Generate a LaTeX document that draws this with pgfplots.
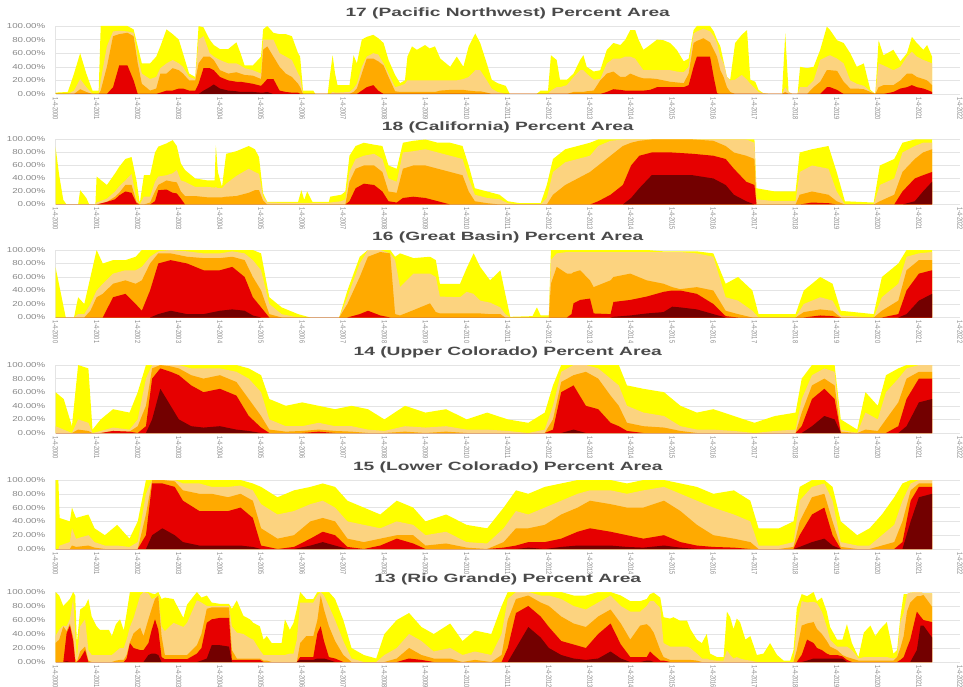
\documentclass[border=0pt]{standalone}
\usepackage{pgfplots}
\pgfplotsset{compat=1.18}
\usepackage{pgfplotstable}
\usepackage{fontspec}
\setmainfont{Liberation Sans}
\usepackage{graphicx}
\definecolor{dzero}{HTML}{FFFF00}
\definecolor{done}{HTML}{FCD37F}
\definecolor{dtwo}{HTML}{FFAA00}
\definecolor{dthree}{HTML}{E60000}
\definecolor{dfour}{HTML}{730000}
\definecolor{gridc}{HTML}{E4E4E4}
\definecolor{labc}{HTML}{888888}
\definecolor{titc}{HTML}{4A4A4A}

% 17 Pacific Northwest
\pgfplotstableread{
x d0 d1 d2 d3 d4
2000.00 2 0 0 0 0
2000.30 3 0 0 0 0
2000.45 30 5 0 0 0
2000.60 60 22 7 0 0
2000.75 30 10 3 0 0
2000.90 5 0 0 0 0
2001.05 5 0 0 0 0
2001.10 100 20 5 0 0
2001.25 100 70 40 0 0
2001.40 100 92 85 10 0
2001.55 100 93 88 42 0
2001.75 100 92 90 42 0
2001.90 95 90 85 20 0
2002.00 70 55 45 0 0
2002.10 45 30 15 0 0
2002.30 45 22 5 0 0
2002.45 55 25 8 0 0
2002.55 70 38 30 2 0
2002.70 95 45 30 5 0
2002.85 88 50 38 5 0
2003.00 80 45 35 8 0
2003.10 60 40 30 8 0
2003.25 30 25 20 5 0
2003.40 25 22 20 5 0
2003.48 100 80 45 15 0
2003.60 98 85 55 38 5
2003.75 80 60 55 38 10
2003.85 72 55 50 35 14
2004.00 66 50 35 25 8
2004.20 66 45 30 20 5
2004.40 76 45 32 18 4
2004.50 60 42 30 18 3
2004.60 42 38 28 17 3
2004.80 42 35 27 15 3
2005.00 55 30 22 12 2
2005.05 95 80 65 15 2
2005.15 100 80 70 22 3
2005.30 90 80 55 22 0
2005.45 88 60 40 5 0
2005.60 88 55 30 3 0
2005.75 85 50 25 2 0
2005.90 60 30 15 2 0
2005.95 55 25 10 0 0
2006.02 5 0 0 0 0
2006.27 5 0 0 0 0
2006.32 0 0 0 0 0
2006.62 0 0 0 0 0
2006.68 30 0 0 0 0
2006.74 57 3 0 0 0
2006.80 30 2 0 0 0
2006.86 13 2 0 0 0
2007.15 13 3 0 0 0
2007.25 57 8 3 0 0
2007.33 45 15 8 0 0
2007.45 80 40 30 5 0
2007.57 84 55 52 10 0
2007.73 87 60 52 13 0
2007.85 82 58 48 5 0
2007.98 75 45 42 0 0
2008.10 50 30 25 0 0
2008.26 28 10 4 0 0
2008.38 16 12 3 0 0
2008.50 20 15 3 0 0
2008.56 55 20 3 0 0
2008.67 70 20 3 0 0
2008.79 65 20 3 0 0
2008.99 72 20 3 0 0
2009.10 67 20 3 0 0
2009.23 70 20 3 0 0
2009.36 52 20 5 0 0
2009.60 40 20 6 0 0
2009.76 55 20 6 0 0
2009.92 40 22 6 0 0
2010.05 70 25 5 0 0
2010.21 89 35 4 0 0
2010.33 75 35 4 0 0
2010.49 45 20 2 0 0
2010.61 21 8 0 0 0
2010.75 16 3 0 0 0
2010.95 12 0 0 0 0
2011.05 0 0 0 0 0
2011.70 0 0 0 0 0
2011.80 5 0 0 0 0
2011.98 5 0 0 0 0
2012.05 57 5 0 0 0
2012.19 50 10 0 0 0
2012.27 21 10 0 0 0
2012.44 21 13 0 0 0
2012.60 30 25 3 0 0
2012.76 50 35 3 0 0
2012.84 57 35 3 0 0
2012.92 40 30 4 0 0
2013.09 33 21 5 0 0
2013.25 35 22 20 0 0
2013.41 65 45 30 3 0
2013.57 75 52 33 7 0
2013.74 72 52 25 6 0
2013.86 80 55 25 5 0
2013.98 94 55 30 5 0
2014.10 94 52 27 5 0
2014.18 80 45 25 5 0
2014.30 65 35 23 5 0
2014.46 72 35 23 6 0
2014.63 80 35 22 10 0
2014.79 79 35 20 10 0
2014.95 75 35 18 10 0
2015.11 65 33 17 10 0
2015.28 48 32 16 10 0
2015.40 52 40 30 13 0
2015.52 94 89 75 40 0
2015.60 100 92 78 55 0
2015.76 100 96 82 55 0
2015.92 100 92 76 55 0
2016.01 92 85 65 25 0
2016.09 80 75 55 1 0
2016.17 70 55 35 0 0
2016.25 48 45 25 0 0
2016.33 25 25 10 0 0
2016.41 21 20 3 0 0
2016.53 75 21 0 0 0
2016.69 87 28 0 0 0
2016.82 94 21 0 0 0
2016.90 21 15 0 0 0
2017.02 18 8 0 0 0
2017.10 6 3 0 0 0
2017.22 1 1 0 0 0
2017.38 0 0 0 0 0
2017.67 0 0 0 0 0
2017.75 89 10 3 0 0
2017.83 3 3 0 0 0
2017.92 0 0 0 0 0
2018.05 0 0 0 0 0
2018.11 40 10 0 0 0
2018.28 38 10 0 0 0
2018.44 40 20 10 0 0
2018.60 65 50 18 0 0
2018.76 99 55 35 10 0
2018.84 94 57 35 10 0
2019.01 79 52 34 6 0
2019.17 75 45 18 0 0
2019.33 60 20 8 0 0
2019.49 40 15 8 0 0
2019.66 45 12 7 0 0
2019.82 6 4 3 0 0
2019.94 0 0 0 0 0
2020.02 79 45 10 0 0
2020.14 57 42 13 0 0
2020.38 65 35 13 3 0
2020.55 48 40 20 8 0
2020.71 60 55 30 10 0
2020.83 84 62 30 13 0
2020.95 75 55 25 10 0
2021.11 65 50 22 8 0
2021.20 72 48 20 6 0
2021.32 55 45 13 3 0
}\tabA

% 18 California
\pgfplotstableread{
x d0 d1 d2 d3 d4
2000.00 89 0 0 0 0
2000.09 45 0 0 0 0
2000.19 7 0 0 0 0
2000.27 0 0 0 0 0
2000.55 0 0 0 0 0
2000.60 22 0 0 0 0
2000.75 10 0 0 0 0
2000.82 0 0 0 0 0
2000.97 0 0 0 0 0
2001.00 43 3 0 0 0
2001.25 30 9 4 4 0
2001.45 48 20 12 8 0
2001.55 58 28 18 14 0
2001.70 70 37 30 20 0
2001.85 73 47 30 18 0
2001.97 37 8 4 2 0
2002.05 2 0 0 0 0
2002.15 45 12 0 0 0
2002.30 45 12 3 0 0
2002.42 80 35 20 5 0
2002.50 89 43 30 22 0
2002.70 94 45 37 23 0
2002.85 99 48 35 18 0
2002.95 90 53 34 17 0
2003.05 63 37 20 9 0
2003.15 53 35 13 0 0
2003.40 40 27 13 0 0
2003.70 37 27 11 0 0
2003.87 37 26 11 0 0
2003.90 91 27 11 0 0
2003.95 50 25 11 0 0
2004.05 27 25 11 0 0
2004.15 78 32 12 0 0
2004.40 82 44 13 0 0
2004.70 90 55 18 0 0
2004.85 85 50 22 0 0
2004.95 73 47 22 0 0
2005.05 17 12 6 0 0
2005.15 4 3 0 0 0
2005.90 4 2 0 0 0
2005.98 22 2 0 0 0
2006.05 7 2 0 0 0
2006.12 20 2 0 0 0
2006.25 4 2 0 0 0
2006.65 4 2 0 0 0
2006.68 12 3 0 0 0
2006.95 15 5 0 0 0
2007.05 20 8 0 0 0
2007.15 75 50 35 5 0
2007.30 90 70 55 25 0
2007.50 95 75 60 32 0
2007.75 92 78 60 30 0
2007.95 90 70 50 20 0
2008.10 60 40 20 5 0
2008.30 55 35 18 3 0
2008.45 95 80 55 10 0
2008.70 98 82 60 12 0
2009.00 100 85 60 10 0
2009.30 95 80 55 5 0
2009.60 95 75 50 0 0
2009.90 90 70 45 0 0
2010.05 60 40 20 0 0
2010.20 25 15 5 0 0
2010.50 20 10 2 0 0
2010.80 15 8 0 0 0
2011.00 5 2 0 0 0
2011.30 2 0 0 0 0
2011.80 2 0 0 0 0
2011.95 30 10 0 0 0
2012.10 70 50 15 0 0
2012.40 85 65 30 0 0
2012.70 90 70 40 0 0
2013.00 95 75 50 0 0
2013.20 100 90 60 5 0
2013.50 100 98 75 15 0
2013.80 100 100 90 30 0
2014.00 100 100 95 60 10
2014.20 100 100 98 75 25
2014.50 100 100 100 80 45
2015.00 100 100 100 80 45
2015.50 100 100 100 78 45
2016.00 100 100 98 75 40
2016.30 100 100 90 70 30
2016.50 100 100 80 55 15
2016.80 100 100 75 35 5
2017.00 100 95 70 30 0
2017.05 25 8 0 0 0
2017.50 20 5 0 0 0
2018.00 20 5 0 0 0
2018.10 80 50 15 0 0
2018.40 85 60 20 3 0
2018.80 90 55 15 2 0
2019.00 50 20 5 0 0
2019.20 5 0 0 0 0
2019.90 3 0 0 0 0
2020.05 60 30 5 0 0
2020.40 70 40 15 0 0
2020.60 95 80 50 20 0
2020.90 100 90 70 40 5
2021.10 100 95 80 45 20
2021.32 100 95 85 50 35
}\tabB

% 16 Great Basin
\pgfplotstableread{
x d0 d1 d2 d3 d4
2000.00 75 0 0 0 0
2000.15 30 0 0 0 0
2000.25 0 0 0 0 0
2000.45 0 0 0 0 0
2000.55 30 5 0 0 0
2000.70 20 5 0 0 0
2000.85 60 20 10 0 0
2001.00 100 40 30 0 0
2001.15 80 50 35 0 0
2001.40 85 65 50 30 0
2001.70 85 70 55 35 0
2001.95 90 70 50 20 0
2002.10 100 75 55 10 0
2002.30 100 90 80 40 0
2002.50 100 98 95 80 5
2002.80 100 100 95 85 10
2003.20 100 98 90 80 5
2003.60 100 95 88 70 5
2004.00 100 95 88 70 10
2004.30 100 98 90 75 12
2004.60 100 95 85 60 10
2004.80 100 85 60 30 3
2005.00 95 70 40 15 0
2005.20 30 20 5 0 0
2005.50 15 5 0 0 0
2005.90 5 0 0 0 0
2006.20 0 0 0 0 0
2006.90 0 0 0 0 0
2007.10 40 30 20 0 0
2007.40 90 80 60 5 0
2007.60 100 100 90 10 0
2007.90 100 100 97 3 0
2008.14 100 95 95 0 0
2008.26 90 85 5 0 0
2008.38 95 45 3 0 0
2008.71 88 65 11 0 0
2009.11 90 65 21 0 0
2009.25 85 60 8 0 0
2009.35 50 31 6 0 0
2009.84 50 30 6 0 0
2010.00 73 38 6 0 0
2010.17 95 35 6 0 0
2010.33 75 25 6 0 0
2010.57 55 22 5 0 0
2010.82 70 15 5 0 0
2010.94 35 5 0 0 0
2011.06 1 0 0 0 0
2011.60 2 0 0 0 0
2011.71 15 0 0 0 0
2011.80 3 0 0 0 0
2012.00 3 0 0 0 0
2012.05 100 85 50 0 0
2012.19 100 95 75 0 0
2012.44 100 97 65 0 0
2012.55 100 97 65 5 0
2012.60 100 97 67 21 0
2012.76 100 97 70 26 0
2013.00 100 97 55 28 0
2013.09 100 97 45 6 0
2013.50 100 97 55 5 0
2013.57 100 97 60 23 1
2013.98 100 97 65 26 3
2014.38 100 97 55 31 6
2014.79 98 97 50 38 8
2015.00 98 97 45 40 16
2015.19 98 97 42 40 15
2015.60 98 95 45 35 12
2016.00 95 90 40 20 5
2016.30 50 30 10 2 0
2016.60 60 25 5 0 0
2016.95 40 10 0 0 0
2017.10 5 0 0 0 0
2018.00 5 0 0 0 0
2018.20 40 20 8 0 0
2018.60 60 30 12 3 0
2018.90 50 25 10 2 0
2019.10 10 3 0 0 0
2019.90 5 0 0 0 0
2020.10 60 30 10 0 0
2020.50 80 50 25 5 0
2020.70 100 90 70 40 5
2021.00 100 95 85 65 25
2021.32 100 97 85 70 35
}\tabC

% 14 Upper Colorado
\pgfplotstableread{
x d0 d1 d2 d3 d4
2000.00 60 10 0 0 0
2000.20 50 5 0 0 0
2000.40 10 0 0 0 0
2000.55 100 20 5 0 0
2000.80 95 15 3 0 0
2000.90 5 0 0 0 0
2001.10 20 3 0 0 0
2001.40 35 8 3 3 0
2001.80 30 5 2 2 0
2002.00 60 20 10 0 0
2002.20 100 80 40 10 0
2002.35 100 100 95 80 20
2002.55 100 100 100 95 65
2002.80 100 100 98 90 40
2003.00 100 100 95 85 20
2003.30 100 95 85 70 10
2003.60 100 95 80 60 8
2004.00 100 95 85 65 10
2004.40 100 90 75 55 5
2004.70 95 80 50 25 3
2005.00 85 60 25 8 0
2005.20 50 20 5 0 0
2005.60 40 10 2 0 0
2006.00 45 10 3 0 0
2006.40 40 15 5 2 0
2006.80 35 10 3 0 0
2007.20 40 10 2 0 0
2007.60 35 5 0 0 0
2008.00 20 3 0 0 0
2008.50 40 10 2 0 0
2009.00 30 8 0 0 0
2009.50 35 10 2 0 0
2010.00 20 5 0 0 0
2010.50 30 5 0 0 0
2011.00 20 3 0 0 0
2011.50 15 0 0 0 0
2011.90 30 5 0 0 0
2012.10 70 40 20 5 0
2012.30 100 90 75 60 0
2012.60 100 100 85 70 5
2012.90 100 100 90 40 0
2013.20 100 95 80 35 0
2013.50 100 80 55 15 0
2013.70 100 70 40 10 0
2013.90 70 40 15 3 0
2014.30 65 30 10 0 0
2014.80 60 25 8 0 0
2015.20 40 10 3 0 0
2015.60 30 5 0 0 0
2016.00 35 5 0 0 0
2016.50 25 3 0 0 0
2017.00 15 0 0 0 0
2017.50 25 3 0 0 0
2018.00 30 5 0 0 0
2018.15 80 50 30 10 0
2018.40 100 85 70 50 10
2018.70 100 95 80 65 25
2018.95 100 90 70 50 20
2019.10 20 5 2 0 0
2019.50 5 0 0 0 0
2019.70 60 30 5 0 0
2020.00 40 20 3 0 0
2020.20 85 60 20 0 0
2020.50 95 80 45 10 0
2020.70 100 95 80 50 10
2021.00 100 100 90 80 45
2021.32 100 100 90 80 50
}\tabD

% 15 Lower Colorado
\pgfplotstableread{
x d0 d1 d2 d3 d4
2000.00 100 0 0 0 0
2000.07 100 0 0 0 0
2000.10 45 5 0 0 0
2000.35 40 10 0 0 0
2000.40 60 30 5 0 0
2000.50 45 15 3 0 0
2000.80 50 20 5 0 0
2000.95 30 10 2 0 0
2001.20 20 5 0 0 0
2001.50 35 5 0 0 0
2001.80 15 3 0 0 0
2002.00 40 10 0 0 0
2002.20 100 80 50 20 0
2002.35 100 100 100 95 20
2002.60 100 100 100 95 30
2002.90 100 100 98 90 20
2003.10 100 95 85 70 10
2003.50 100 95 80 55 5
2003.80 100 90 80 55 5
2004.20 100 90 75 55 5
2004.50 100 92 80 60 5
2004.80 95 85 70 45 3
2005.00 90 65 30 5 0
2005.40 75 50 15 0 0
2005.80 85 55 20 3 0
2006.20 90 65 40 15 5
2006.50 95 70 45 25 10
2006.80 90 60 40 20 5
2007.10 70 40 15 3 0
2007.50 60 35 10 0 0
2007.90 50 30 15 5 0
2008.30 70 40 20 15 0
2008.70 60 35 20 8 0
2009.00 40 20 5 0 0
2009.50 50 25 8 0 0
2010.00 35 10 2 0 0
2010.50 30 8 0 0 0
2010.90 60 30 10 2 0
2011.20 85 55 30 5 0
2011.50 80 50 30 10 2
2011.90 90 60 35 10 0
2012.30 95 70 50 15 3
2012.70 100 80 60 25 5
2013.00 100 85 70 30 5
2013.50 100 85 65 25 5
2013.90 95 80 60 20 3
2014.30 100 85 60 15 2
2014.80 100 90 70 20 5
2015.20 95 80 55 10 2
2015.60 90 70 35 5 0
2016.00 80 60 20 3 0
2016.50 85 50 15 2 0
2016.90 70 40 10 0 0
2017.10 30 5 0 0 0
2017.60 30 5 0 0 0
2017.95 40 10 3 0 0
2018.10 90 70 40 20 3
2018.40 100 90 75 50 10
2018.70 100 95 80 60 15
2018.90 90 70 40 20 5
2019.10 40 10 3 0 0
2019.50 20 5 0 0 0
2019.80 30 5 0 0 0
2020.10 50 20 5 0 0
2020.40 75 35 10 0 0
2020.60 95 70 40 10 0
2020.80 100 95 85 70 40
2021.00 100 100 95 90 75
2021.32 100 100 95 90 80
}\tabE

% 13 Rio Grande
\pgfplotstableread{
x d0 d1 d2 d3 d4
2000.00 100 37 27 0 0
2000.09 95 46 32 0 0
2000.19 80 52 51 0 0
2000.27 85 51 44 41 1
2000.35 90 61 55 52 0
2000.43 100 90 35 30 0
2000.48 95 40 5 0 0
2000.52 27 5 0 0 0
2000.60 75 51 15 5 0
2000.72 80 61 22 17 0
2000.80 90 17 2 0 0
2000.88 65 10 0 0 0
2001.00 51 10 0 0 0
2001.08 46 10 0 0 0
2001.30 46 10 0 0 0
2001.37 37 10 0 0 0
2001.47 54 15 2 0 0
2001.57 61 20 3 0 0
2001.66 45 20 3 0 0
2001.73 70 32 10 5 0
2001.81 100 50 28 27 0
2001.90 100 63 41 20 0
2002.06 100 95 49 17 0
2002.14 100 100 37 17 0
2002.26 100 98 61 27 10
2002.34 98 90 76 46 12
2002.42 97 92 90 61 12
2002.50 100 95 95 46 10
2002.58 90 51 37 7 0
2002.66 92 44 10 4 0
2002.87 90 56 10 4 0
2003.11 63 50 10 4 0
2003.20 82 56 10 4 0
2003.44 100 88 24 12 0
2003.55 92 85 40 20 2
2003.68 95 80 76 56 5
2003.80 85 80 78 61 24
2004.00 83 80 78 63 24
2004.22 83 80 78 63 22
2004.29 76 51 17 3 0
2004.41 88 42 5 3 0
2004.57 66 40 5 3 0
2004.73 61 34 5 3 0
2004.81 56 32 5 3 0
2004.97 51 17 5 3 0
2005.06 32 10 2 0 0
2005.14 37 10 2 0 0
2005.26 27 10 0 0 0
2005.50 27 10 0 0 0
2005.58 61 10 0 0 0
2005.70 46 12 0 0 0
2005.79 56 12 0 0 0
2005.87 76 32 0 0 0
2005.95 100 85 27 7 3
2006.10 90 85 37 7 3
2006.27 90 85 37 7 3
2006.37 100 95 60 41 5
2006.45 100 100 95 51 5
2006.53 100 95 75 30 5
2006.65 100 80 51 7 3
2006.80 90 60 30 5 0
2007.00 60 30 10 0 0
2007.20 20 5 0 0 0
2007.50 10 0 0 0 0
2007.80 5 0 0 0 0
2008.00 40 10 0 0 0
2008.30 60 20 5 0 0
2008.60 70 40 20 5 0
2008.90 50 30 10 3 0
2009.20 40 15 5 0 0
2009.60 55 20 5 0 0
2009.90 30 10 0 0 0
2010.20 45 15 3 0 0
2010.60 40 10 0 0 0
2010.85 80 40 10 0 0
2011.00 100 90 60 20 0
2011.20 100 100 90 70 20
2011.50 100 100 95 80 50
2011.80 100 95 85 65 35
2012.00 100 95 80 50 20
2012.30 100 90 65 30 10
2012.60 95 80 55 25 5
2012.90 95 75 50 20 3
2013.20 100 85 65 40 5
2013.50 100 95 75 55 15
2013.75 95 80 55 25 5
2013.98 87 72 32 7 0
2014.22 87 72 52 7 0
2014.38 90 80 54 7 2
2014.46 97 87 50 15 2
2014.55 99 87 42 10 0
2014.71 92 77 17 2 0
2014.79 64 27 7 2 0
2014.95 62 22 3 0 0
2015.03 64 22 3 0 0
2015.19 59 22 3 0 0
2015.36 59 22 3 0 0
2015.44 47 20 3 0 0
2015.60 32 12 2 0 0
2015.72 27 5 0 0 0
2015.84 40 5 0 0 0
2015.92 12 3 0 0 0
2016.09 7 2 0 0 0
2016.25 7 2 0 0 0
2016.33 72 17 0 0 0
2016.41 64 10 0 0 0
2016.49 47 5 0 0 0
2016.57 62 7 0 0 0
2016.65 57 5 0 0 0
2016.78 32 3 0 0 0
2016.90 37 2 0 0 0
2017.06 10 0 0 0 0
2017.22 12 0 0 0 0
2017.38 27 0 0 0 0
2017.55 10 0 0 0 0
2017.71 2 0 0 0 0
2017.87 2 0 0 0 0
2017.95 17 0 0 0 0
2018.03 77 52 17 0 0
2018.15 97 87 52 10 0
2018.28 94 85 55 32 2
2018.44 100 86 57 27 5
2018.52 87 84 47 20 5
2018.64 92 72 40 17 5
2018.76 72 50 30 12 5
2018.84 50 32 22 10 5
2019.01 32 22 17 10 5
2019.14 32 22 10 8 5
2019.25 54 22 7 3 0
2019.37 27 17 5 0 0
2019.53 7 5 2 0 0
2019.66 42 7 2 0 0
2019.82 52 7 2 0 0
2019.94 37 7 2 0 0
2020.06 47 7 2 0 0
2020.22 57 7 2 0 0
2020.38 12 5 2 0 0
2020.47 17 7 7 0 0
2020.55 65 57 20 3 0
2020.63 97 70 37 7 0
2020.71 97 97 72 20 0
2020.79 99 99 85 32 0
2020.95 100 100 94 72 17
2021.04 100 100 94 65 52
2021.11 98 98 96 60 52
2021.32 98 98 79 57 35
}\tabF

\newcommand\yl[1]{\scalebox{1.35}[1]{#1}}
\pgfplotsset{
  dm/.style={
    scale only axis, width=904.5pt, height=#1,
    xmin=2000, xmax=2022, ymin=0, ymax=100,
    axis x line*=bottom, axis y line*=left,
    axis line style={draw=gridc, line width=0.7pt},
    ytick={0,20,40,60,80,100},
    yticklabels={\yl{0.00\%},\yl{20.00\%},\yl{40.00\%},\yl{60.00\%},\yl{80.00\%},\yl{100.00\%}},
    ymajorgrids, grid style={draw=gridc, line width=0.5pt},
    xtick={2000,2001,...,2022},
    xticklabel={\scalebox{1}[1.35]{1-4-\pgfmathprintnumber[fixed,precision=0,1000 sep={},assume math mode=true]{\tick}}},
    major tick length=0pt,
    yticklabel style={font=\fontsize{7.2}{7.2}\selectfont, text=labc, inner sep=0pt, anchor=east},
    yticklabel shift=10pt,
    xticklabel style={font=\fontsize{5.6}{6}\selectfont, text=labc, rotate=-90, anchor=west, inner sep=0pt},
    xticklabel shift=3pt,
    title style={font=\bfseries\fontsize{12}{12}\selectfont, text=titc, anchor=center, at={(0.5,1)}, yshift=6.5pt},
  },
  ar/.style={draw=none, fill=#1},
}
\newcommand\layers[1]{%
  \addplot[ar=dzero] table[x=x,y=d0]{#1} \closedcycle;
  \addplot[ar=done] table[x=x,y=d1]{#1} \closedcycle;
  \addplot[ar=dtwo] table[x=x,y=d2]{#1} \closedcycle;
  \addplot[ar=dthree] table[x=x,y=d3]{#1} \closedcycle;
  \addplot[ar=dfour] table[x=x,y=d4]{#1} \closedcycle;
}

\begin{document}
\begin{tikzpicture}
\path[use as bounding box] (0pt,0pt) rectangle (963pt,-687pt);

\begin{axis}[dm=68pt, at={(55.5pt,-26pt)}, anchor=north west,
  title={\scalebox{1.6}[1]{17 (Pacific Northwest) Percent Area}}]
\layers{\tabA}
\end{axis}

\begin{axis}[dm=65pt, at={(55.5pt,-139.5pt)}, anchor=north west,
  title={\scalebox{1.6}[1]{18 (California) Percent Area}}]
\layers{\tabB}
\end{axis}

\begin{axis}[dm=67.5pt, at={(55.5pt,-250pt)}, anchor=north west,
  title={\scalebox{1.6}[1]{16 (Great Basin) Percent Area}}]
\layers{\tabC}
\end{axis}

\begin{axis}[dm=68pt, at={(55.5pt,-365pt)}, anchor=north west,
  title={\scalebox{1.6}[1]{14 (Upper Colorado) Percent Area}}]
\layers{\tabD}
\end{axis}

\begin{axis}[dm=69pt, at={(55.5pt,-480pt)}, anchor=north west,
  title={\scalebox{1.6}[1]{15 (Lower Colorado) Percent Area}}]
\layers{\tabE}
\end{axis}

\begin{axis}[dm=70pt, at={(55.5pt,-592pt)}, anchor=north west,
  title={\scalebox{1.6}[1]{13 (Rio Grande) Percent Area}}]
\layers{\tabF}
\end{axis}
\end{tikzpicture}
\end{document}
